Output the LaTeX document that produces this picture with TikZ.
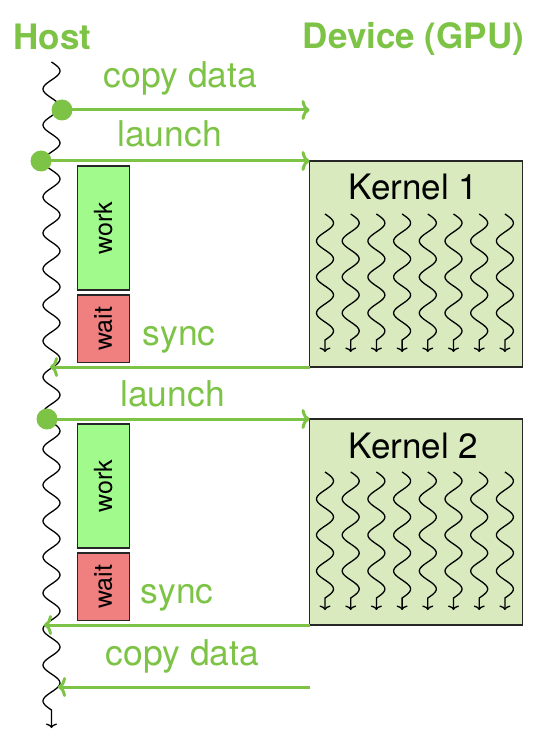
\documentclass[tikz,border=0pt]{standalone}
\usepackage{fontspec}
\setmainfont{TeX Gyre Heros}
\usetikzlibrary{arrows.meta}
\definecolor{cg}{RGB}{125,195,70}
\definecolor{kfill}{RGB}{216,234,190}
\definecolor{wkfill}{RGB}{160,250,140}
\definecolor{wtfill}{RGB}{240,128,128}
\begin{document}
\begin{tikzpicture}[x=1pt,y=-1pt,
  lbl/.style={text=cg, font=\fontsize{35.5}{42}\selectfont, anchor=base, inner sep=0},
  ttl/.style={text=cg, font=\fontsize{35}{42}\selectfont\bfseries, anchor=base, inner sep=0},
  ktext/.style={text=black, font=\fontsize{35}{40}\selectfont, anchor=base, inner sep=0},
  msg/.style={draw=cg, line width=3pt, -{To[length=8pt,width=20pt]}},
  dotn/.style={circle, fill=cg, minimum size=21pt, inner sep=0},
  kbox/.style={draw=black!85, line width=1.4pt, fill=kfill, minimum width=213pt, minimum height=206pt, inner sep=0, outer sep=0, anchor=north west},
  hbox/.style={draw=black!85, line width=1.4pt, rotate=90, minimum height=52pt, inner sep=0, outer sep=0, font=\fontsize{25}{30}\selectfont},
  thread/.style={line width=1.3pt, -{To[length=4.5pt,width=11pt]}},
]
\useasboundingbox (0,0) rectangle (546,738);

% titles
\node[ttl] (host) at (52.5,50) {Host};
\node[ttl] (dev) at (413.5,49) {Device (GPU)};

% host timeline
\coordinate (hend) at (51.5,728);
\draw[thread] plot[domain=62:710, samples=400, smooth] ({51.5+8.5*sin(10*(\x-98))},\x) -- (hend);

% kernel boxes
\node[kbox] (k1) at (309.5,161) {};
\node[kbox] (k2) at (309.5,419) {};
\node[ktext] (k1t) at (413.5,200) {Kernel 1};
\node[ktext] (k2t) at (413.5,458) {Kernel 2};

% threads
\foreach \c in {325,350.7,376.4,402.1,427.8,453.5,479.2,504.9}{
  \draw[thread] plot[domain=214:340, samples=80, smooth] ({\c+8.5*sin(10*(\x-214))},\x) -- (\c,352);
  \draw[thread] plot[domain=472:598, samples=80, smooth] ({\c+8.5*sin(10*(\x-472))},\x) -- (\c,610);
}

% work / wait boxes
\node[hbox, fill=wkfill, minimum width=124pt] (work1) at (103.3,228) {work};
\node[hbox, fill=wtfill, minimum width=67.7pt] (wait1) at (103.3,328.8) {wait};
\node[hbox, fill=wkfill, minimum width=124pt] (work2) at (103.3,486) {work};
\node[hbox, fill=wtfill, minimum width=67.7pt] (wait2) at (103.3,586.8) {wait};

% coordinates
\coordinate (d1) at (309.5,110);
\coordinate (d2) at (309.5,161);
\coordinate (d4) at (309.5,419);
\coordinate (h3) at (50,367);
\coordinate (h5) at (44,625);
\coordinate (d6) at (309.5,687);
\coordinate (h6) at (58,687);

% dots
\node[dotn] (dot1) at (62,110) {};
\node[dotn] (dot2) at (41,161) {};
\node[dotn] (dot3) at (47,419) {};

% messages
\draw[msg] (dot1.center) -- (d1);
\draw[msg] (dot2.center) -- (d2);
\draw[msg] (k1.south west) -- (h3);
\draw[msg] (dot3.center) -- (d4);
\draw[msg] (k2.south west) -- (h5);
\draw[msg] (d6) -- (h6);

% labels
\node[lbl] (l1) at (180.5,88) {copy data};
\node[lbl] (l2) at (169.5,147) {launch};
\node[lbl] (l3) at (179,345) {sync};
\node[lbl] (l4) at (172.5,406) {launch};
\node[lbl] (l5) at (177,603) {sync};
\node[lbl] (l6) at (182.5,665) {copy data};
\end{tikzpicture}
\end{document}
